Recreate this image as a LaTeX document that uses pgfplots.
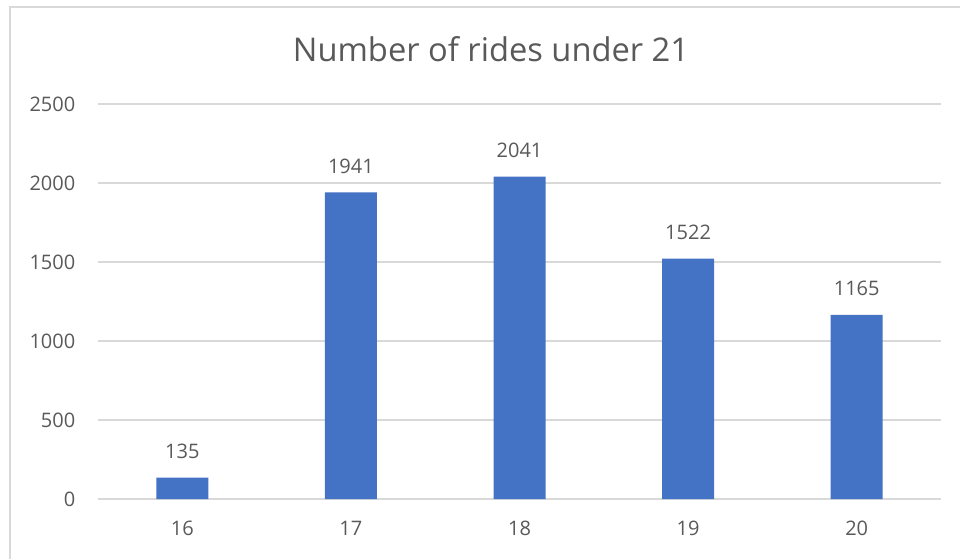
\documentclass[border=0pt]{standalone}
\usepackage{pgfplots}
\pgfplotsset{compat=1.18}
\usepackage{fontspec}
\setmainfont{Open Sans}
\definecolor{barblue}{HTML}{4472C4}
\definecolor{txtgrey}{HTML}{595959}
\definecolor{gridgrey}{HTML}{D9D9D9}
\begin{document}
\begin{tikzpicture}[x=0.75pt,y=0.75pt]
\useasboundingbox (0,0) rectangle (960,558);
\draw[gridgrey, line width=1.1pt] (10,551) rectangle (975,-20);
\node[anchor=base, text=txtgrey, font=\fontsize{24.5}{29}\selectfont] at (491,496) {Number of rides under 21};
\begin{axis}[
  at={(73.5pt,44.25pt)}, anchor=south west,
  scale only axis,
  width=632.25pt, height=296.25pt,
  xmin=-0.5, xmax=4.5, ymin=0, ymax=2500,
  xtick={0,1,2,3,4}, xticklabels={16,17,18,19,20},
  ytick={0,500,1000,1500,2000,2500},
  axis line style={draw=none},
  ymajorgrids, grid style={gridgrey, line width=0.9pt},
  major tick length=0pt,
  tick label style={text=txtgrey, font=\fontsize{15}{18}\selectfont},
  yticklabel style={anchor=east, xshift=-13.5pt},
  xticklabel style={anchor=north, yshift=-13pt},
  /pgf/number format/assume math mode=true,
  /pgf/number format/1000 sep={},
  ybar, bar width=39pt,
  nodes near coords,
  nodes near coords style={anchor=south, inner sep=0pt, yshift=14pt, text=txtgrey, font=\fontsize{15}{18}\selectfont, /pgf/number format/assume math mode=true, /pgf/number format/1000 sep={}},
  clip=false,
]
\addplot[fill=barblue, draw=none] coordinates {(0,135) (1,1941) (2,2041) (3,1522) (4,1165)};
\end{axis}
\end{tikzpicture}
\end{document}
